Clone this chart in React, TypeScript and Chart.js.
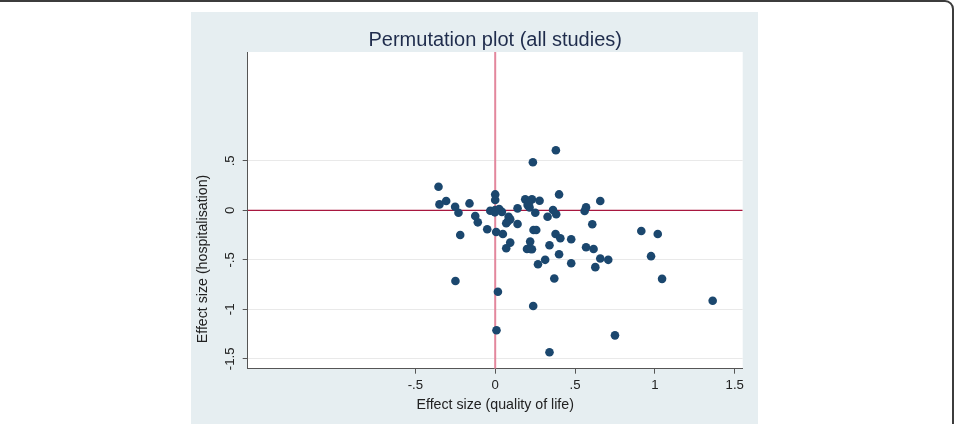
import React, { useEffect, useRef } from "react";
import { Chart, registerables } from "chart.js";

Chart.register(...registerables);

// Study-level effect sizes: quality of life (x) against hospitalisation (y)
const qolEffect = [
  -0.355, -0.349, -0.307, -0.251, -0.23, -0.161, -0.125, -0.109, -0.219, -0.05,
  -0.249, 0.0, 0.0, -0.031, 0.0, 0.025, 0.042, 0.006, 0.048, 0.084,
  0.094, 0.077, 0.069, 0.14, 0.14, 0.094, 0.069, 0.188, 0.23, 0.203,
  0.215, 0.278, 0.251, 0.236, 0.38, 0.4, 0.362, 0.382, 0.328, 0.24,
  0.257, 0.219, 0.199, 0.219, 0.23, 0.34, 0.378, 0.408, 0.476, 0.4,
  0.313, 0.268, 0.476, 0.37, 0.56, 0.569, 0.658, 0.608, 0.569, 0.616,
  0.658, 0.708, 0.627, 0.915, 1.018, 0.976, 1.045, 1.362, 0.017, 0.238,
  0.008, 0.75, 0.34, -0.002, 0.21,
];
const hospEffect = [
  0.238, 0.06, 0.094, 0.036, -0.024, 0.07, -0.057, -0.121, -0.249, -0.191,
  -0.714, 0.161, 0.104, -0.004, 0.002, 0.013, -0.015, -0.219, -0.239, -0.064,
  -0.091, -0.115, -0.131, 0.02, -0.138, -0.326, -0.383, 0.111, 0.111, 0.053,
  0.03, 0.097, -0.024, 0.486, 0.607, 0.161, 0.003, -0.04, -0.064, -0.198,
  -0.198, -0.316, -0.39, -0.39, -0.393, -0.352, -0.239, -0.282, -0.292, -0.443,
  -0.5, -0.544, -0.534, -0.689, -0.007, 0.03, 0.094, -0.141, -0.373, -0.39,
  -0.487, -0.5, -0.574, -0.208, -0.239, -0.463, -0.692, -0.913, -0.823, -0.967,
  -1.212, -1.263, -1.434, -0.02, 0.075,
];

const xTickValues = [-0.5, 0, 0.5, 1, 1.5];
const yTickValues = [-1.5, -1, -0.5, 0, 0.5];
const xRange = [-1.55, 1.55];
const yRange = [-1.6, 1.6];

const chartTitle = "Permutation plot (all studies)";
const xAxisTitle = "Effect size (quality of life)";
const yAxisTitle = "Effect size (hospitalisation)";

const FONT = "'Liberation Sans', Arial, Helvetica, sans-serif";

// Stata-style numeric labels: drop the leading zero (".5", "-.5")
function stataLabel(v: number): string {
  if (v === 0) return "0";
  return String(v).replace(/^(-?)0\./, "$1.");
}

const plotBackground = {
  id: "plotBackground",
  beforeDraw(chart: any) {
    const { ctx, chartArea } = chart;
    ctx.save();
    ctx.fillStyle = "#ffffff";
    ctx.fillRect(chartArea.left, chartArea.top, chartArea.right - chartArea.left, chartArea.bottom - chartArea.top);
    ctx.restore();
  },
};

const sideTitle = {
  id: "sideTitle",
  afterDraw(chart: any) {
    const { ctx } = chart;
    ctx.save();
    ctx.translate(12, 247);
    ctx.rotate(-Math.PI / 2);
    ctx.textAlign = "center";
    ctx.textBaseline = "middle";
    ctx.font = `14.2px ${FONT}`;
    ctx.fillStyle = "#222222";
    ctx.fillText(yAxisTitle, 0, 0);
    ctx.restore();
  },
};

export default function App() {
  const canvasRef = useRef<HTMLCanvasElement | null>(null);

  useEffect(() => {
    if (!canvasRef.current) return;
    const points = qolEffect.map((x, i) => ({ x, y: hospEffect[i] }));

    const chart = new Chart(canvasRef.current, {
      type: "scatter",
      data: {
        datasets: [
          {
            label: "Studies",
            data: points,
            backgroundColor: "#1b476e",
            borderColor: "#1b476e",
            borderWidth: 0,
            pointRadius: 4.3,
            order: 0,
          },
          {
            label: "y = 0",
            data: [
              { x: xRange[0], y: 0 },
              { x: xRange[1], y: 0 },
            ],
            showLine: true,
            borderColor: "#a8173f",
            borderWidth: 1.3,
            pointRadius: 0,
            order: 1,
          },
          {
            label: "x = 0",
            data: [
              { x: 0, y: yRange[0] },
              { x: 0, y: yRange[1] },
            ],
            showLine: true,
            borderColor: "#e3879d",
            borderWidth: 2,
            pointRadius: 0,
            order: 1,
          },
        ],
      },
      options: {
        responsive: false,
        animation: false,
        devicePixelRatio: 1,
        layout: { padding: { left: 0, right: 15.3, top: 0, bottom: 0 } },
        plugins: {
          legend: { display: false },
          tooltip: { enabled: false },
          title: {
            display: true,
            fullSize: false,
            text: chartTitle,
            color: "#1f2c4c",
            font: { family: FONT, size: 20, weight: "normal", lineHeight: 1.1 },
            padding: { top: 17.5, bottom: 0.5 },
          },
        },
        scales: {
          x: {
            type: "linear",
            min: xRange[0],
            max: xRange[1],
            afterBuildTicks: (scale: any) => {
              scale.ticks = xTickValues.map((value) => ({ value }));
            },
            afterFit: (scale: any) => {
              scale.height = 55.3;
            },
            ticks: {
              autoSkip: false,
              maxRotation: 0,
              padding: 4,
              color: "#222222",
              font: { family: FONT, size: 13.2 },
              callback: (v: any) => stataLabel(Number(v)),
            },
            grid: {
              drawOnChartArea: false,
              tickLength: 5,
              tickColor: "#555555",
            },
            border: { color: "#555555", width: 1 },
            title: {
              display: true,
              text: xAxisTitle,
              color: "#222222",
              font: { family: FONT, size: 14.2 },
              padding: { top: 0, bottom: 10.5 },
            },
          },
          y: {
            type: "linear",
            min: yRange[0],
            max: yRange[1],
            afterBuildTicks: (scale: any) => {
              scale.ticks = yTickValues.map((value) => ({ value }));
            },
            afterFit: (scale: any) => {
              scale.width = 56.7;
            },
            ticks: {
              autoSkip: false,
              minRotation: 90,
              maxRotation: 90,
              crossAlign: "center",
              padding: 1,
              color: "#222222",
              font: { family: FONT, size: 13.2 },
              callback: (v: any) => stataLabel(Number(v)),
            },
            grid: {
              color: "#e9e9e9",
              lineWidth: 1,
              tickLength: 5,
              tickColor: "#555555",
            },
            border: { color: "#555555", width: 1 },
          },
        },
      },
      plugins: [plotBackground, sideTitle],
    });

    return () => chart.destroy();
  }, []);

  return (
    <div style={{ position: "fixed", left: 0, top: 0, width: 959, height: 424, background: "#ffffff", overflow: "hidden" }}>
      <div
        style={{
          position: "absolute",
          left: -20,
          top: 0,
          width: 974,
          height: 520,
          border: "2px solid #3c3c3c",
          borderRadius: 9,
          boxSizing: "border-box",
        }}
      />
      <div style={{ position: "absolute", left: 191, top: 12, width: 567, height: 412, background: "#e6eef1" }}>
        <canvas ref={canvasRef} width={567} height={412} style={{ display: "block" }} />
      </div>
    </div>
  );
}
